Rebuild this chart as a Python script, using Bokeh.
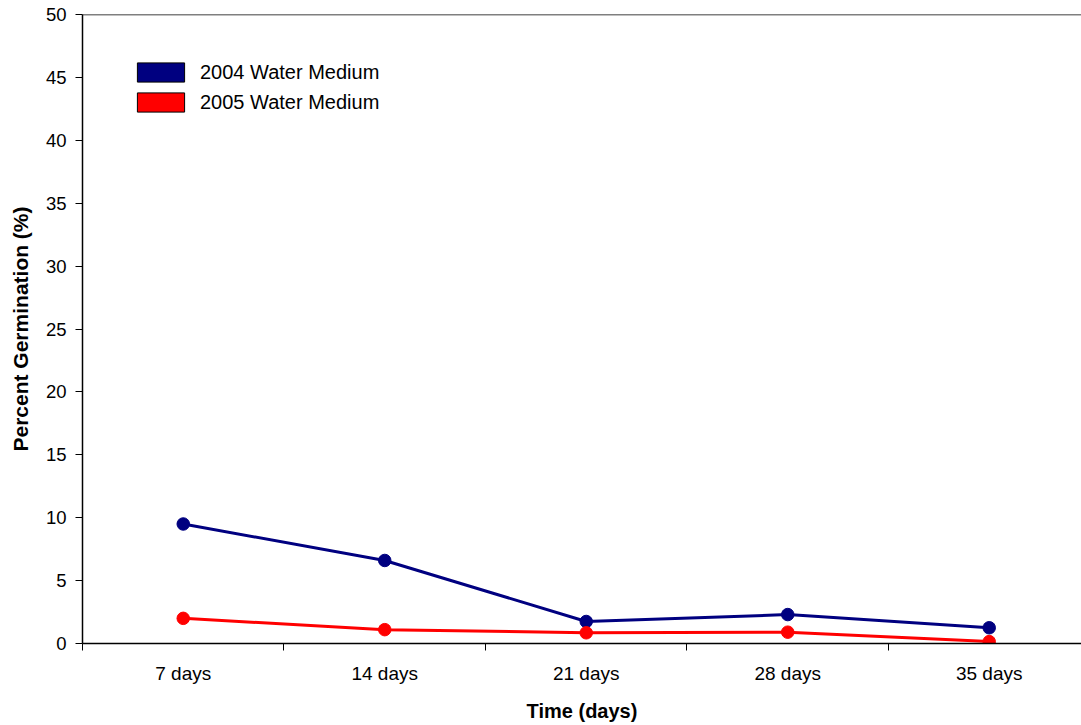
from bokeh.plotting import figure
from bokeh.models import (ColumnDataSource, Range1d, FixedTicker, Legend, LegendItem, Span)
from bokeh.embed import file_html
from bokeh.resources import INLINE

# Germination over time, two seed lots in water medium
categories = ["7 days", "14 days", "21 days", "28 days", "35 days"]
germ_2004 = [9.5, 6.6, 1.75, 2.3, 1.25]
germ_2005 = [2.0, 1.1, 0.85, 0.9, 0.15]
series_names = ["2004 Water Medium", "2005 Water Medium"]
y_ticks = [0, 5, 10, 15, 20, 25, 30, 35, 40, 45, 50]

FONT = "Liberation Sans"
NAVY = "#000080"
RED = "#FF0000"

# category centres sit in the middle of each unit slot
xpos = [i + 0.5 for i in range(len(categories))]

p = figure(width=1081, height=725, output_backend="svg", toolbar_location=None,
           x_range=Range1d(0, 4.958), y_range=Range1d(0, 50),
           min_border_left=82, min_border_bottom=82, min_border_top=14,
           min_border_right=0)
p.background_fill_color = "white"
p.border_fill_color = "white"
p.outline_line_color = None
p.grid.grid_line_color = None

src04 = ColumnDataSource(dict(x=xpos, y=germ_2004))
src05 = ColumnDataSource(dict(x=xpos, y=germ_2005))

p.line("x", "y", source=src04, line_color=NAVY, line_width=3)
p.scatter("x", "y", source=src04, size=12.5, fill_color=NAVY, line_color=NAVY)
p.line("x", "y", source=src05, line_color=RED, line_width=3)
p.scatter("x", "y", source=src05, size=12.5, fill_color=RED, line_color=RED)

# top edge of the plotting area
p.add_layout(Span(location=50, dimension="width", line_color="black", line_width=1.5))

# x axis: labels at category centres, ticks on the slot boundaries
p.xaxis.ticker = FixedTicker(ticks=xpos, minor_ticks=list(range(len(categories) + 1)))
p.xaxis.major_label_overrides = {x: c for x, c in zip(xpos, categories)}
p.xaxis.major_tick_out = 0
p.xaxis.major_tick_in = 0
p.xaxis.minor_tick_out = 7
p.xaxis.minor_tick_in = 0
p.xaxis.minor_tick_line_color = "black"
p.xaxis.axis_line_color = "black"
p.xaxis.axis_line_width = 1.5
p.xaxis.major_label_standoff = 12
p.xaxis.major_label_text_font = FONT
p.xaxis.major_label_text_font_size = "19px"
p.xaxis.major_label_text_color = "black"
p.xaxis.axis_label = "Time (days)"
p.xaxis.axis_label_text_font = FONT
p.xaxis.axis_label_text_font_size = "20px"
p.xaxis.axis_label_text_font_style = "bold"
p.xaxis.axis_label_text_color = "black"
p.xaxis.axis_label_standoff = 13

# y axis
p.yaxis.ticker = FixedTicker(ticks=y_ticks)
p.yaxis.minor_tick_line_color = None
p.yaxis.major_tick_out = 7
p.yaxis.major_tick_in = 0
p.yaxis.major_tick_line_color = "black"
p.yaxis.axis_line_color = "black"
p.yaxis.axis_line_width = 1.5
p.yaxis.major_label_standoff = 9
p.yaxis.major_label_text_font = FONT
p.yaxis.major_label_text_font_size = "18.5px"
p.yaxis.major_label_text_color = "black"
p.yaxis.axis_label = "Percent Germination (%)"
p.yaxis.axis_label_text_font = FONT
p.yaxis.axis_label_text_font_size = "21px"
p.yaxis.axis_label_text_font_style = "bold"
p.yaxis.axis_label_text_color = "black"
p.yaxis.axis_label_standoff = 11

# legend swatches drawn as filled boxes (their single quad lies below the visible range)
sw04 = p.quad(left=[0], right=[0.1], top=[-5], bottom=[-6], fill_color=NAVY, line_color="black")
sw05 = p.quad(left=[0], right=[0.1], top=[-5], bottom=[-6], fill_color=RED, line_color="black")
legend = Legend(items=[LegendItem(label=series_names[0], renderers=[sw04]),
                       LegendItem(label=series_names[1], renderers=[sw05])],
                location=(49, 529), orientation="vertical",
                glyph_width=59, glyph_height=24, label_height=24,
                spacing=6, padding=0, margin=0, label_standoff=10,
                label_text_font=FONT, label_text_font_size="20px",
                label_text_color="black", border_line_color=None,
                background_fill_alpha=0)
p.add_layout(legend)

open("out.html", "w").write(file_html(p, INLINE))
